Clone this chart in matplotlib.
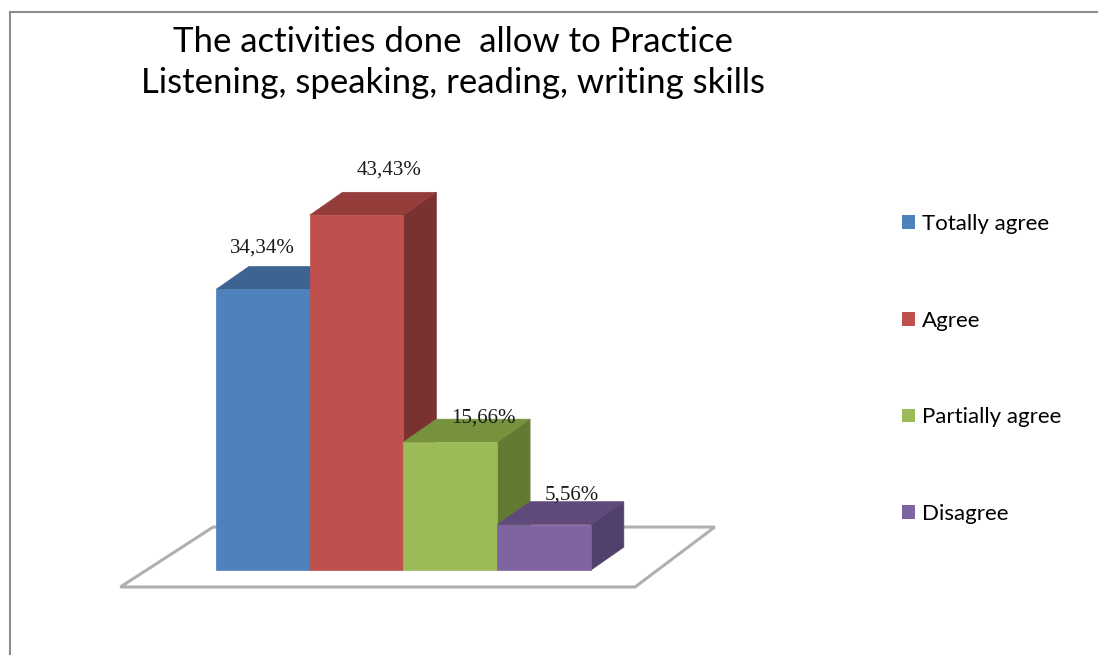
import numpy as np
import matplotlib.pyplot as plt
from matplotlib.patches import Polygon, Patch
from matplotlib.lines import Line2D

categories = ["Totally agree", "Agree", "Partially agree", "Disagree"]
values = [34.34, 43.43, 15.66, 5.56]
labels = ["34,34%", "43,43%", "15,66%", "5,56%"]
title_lines = ["The activities done  allow to Practice",
               "Listening, speaking, reading, writing skills"]

front_colors = ["#4F81BD", "#C0504D", "#9BBB59", "#8064A2"]
top_colors = ["#3D6491", "#943D3B", "#76923C", "#604A7B"]
side_colors = ["#385D8A", "#7A3230", "#637A33", "#52406C"]

# depth of the pseudo-3D extrusion, in bar widths / percent
DX, DY = 0.35, 2.8

# per-label nudges (x in bar widths, y in percent)
label_dx = [0.0, 0.35, 0.35, 0.30]
label_dy = [5.1, 5.5, 2.9, 3.6]

fig = plt.figure(figsize=(10.98, 6.55), dpi=100)
fig.patch.set_facecolor("white")

ax = fig.add_axes([100 / 1098, 35 / 655, 640 / 1098, 470 / 655])
ax.set_xlim(-1.237, 5.589)
ax.set_ylim(-6.12, 51.41)
ax.axis("off")

# floor plate
floor = Polygon([(-1.02, -2.08), (4.47, -2.08), (5.32, 5.26), (-0.03, 5.26)],
                closed=True, facecolor="white", edgecolor="#B0B0B0", lw=2.2, zorder=1)
ax.add_patch(floor)

for i, (v, fc, tc, sc) in enumerate(zip(values, front_colors, top_colors, side_colors)):
    x0, x1 = i, i + 1
    side = Polygon([(x1, 0), (x1 + DX, DY), (x1 + DX, v + DY), (x1, v)],
                   closed=True, facecolor=sc, edgecolor=sc, lw=0.5, zorder=2 + i)
    top = Polygon([(x0, v), (x0 + DX, v + DY), (x1 + DX, v + DY), (x1, v)],
                  closed=True, facecolor=tc, edgecolor=tc, lw=0.5, zorder=2 + i)
    ax.add_patch(side)
    ax.add_patch(top)
    ax.bar(x0, v, width=1, align="edge", color=fc, edgecolor=fc, lw=0.5, zorder=2 + i)

for i, (v, lab) in enumerate(zip(values, labels)):
    ax.text(i + 0.5 + label_dx[i], v + label_dy[i], lab, ha="center", va="center",
            fontsize=15, family="Liberation Serif", color="#1a1a1a", zorder=10)

for k, line in enumerate(title_lines):
    fig.text(453 / 1098, 1 - (42 + 41 * k) / 655, line,
             ha="center", va="center", fontsize=25, family="Lato")

handles = [Patch(facecolor=c, edgecolor="none") for c in front_colors]
fig.legend(handles, categories, loc="upper left", bbox_to_anchor=(902 / 1098, 1 - 214 / 655),
           frameon=False, prop={"family": "Lato", "size": 16},
           labelspacing=3.45, handlelength=0.58, handleheight=0.58, handletextpad=0.3,
           borderaxespad=0, borderpad=0)

# chart area border
fig.add_artist(Line2D([10 / 1098, 10 / 1098], [0, 1 - 12 / 655], color="#8C8C8C", lw=1.5))
fig.add_artist(Line2D([10 / 1098, 1.0], [1 - 12 / 655, 1 - 12 / 655], color="#8C8C8C", lw=1.5))

fig.savefig("out.png", dpi=100)
